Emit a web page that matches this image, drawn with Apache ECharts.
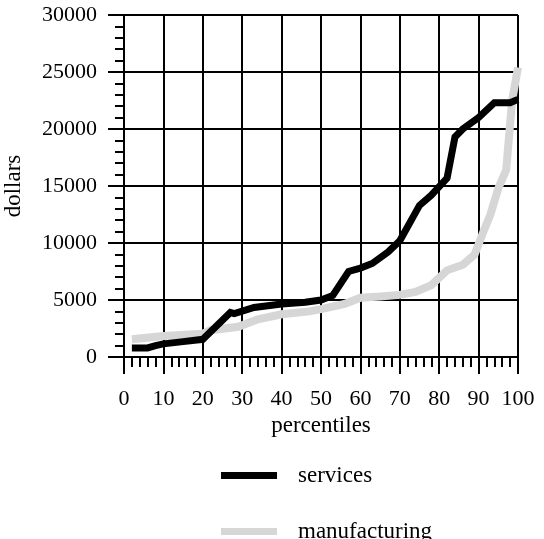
<!DOCTYPE html>
<html>
<head>
<meta charset="utf-8">
<script src="https://cdn.jsdelivr.net/npm/echarts@6/dist/echarts.min.js"></script>
<style>
html,body{margin:0;padding:0;background:#fff;}
#chart{width:544px;height:539px;}
</style>
</head>
<body>
<div id="chart"></div>
<script>
var servicesPct = [2, 6, 8, 10, 15, 20, 27, 28, 33, 40, 46, 50, 53, 57, 60, 63, 67, 70, 75, 78, 82, 84, 86, 90, 94, 98, 100];
var servicesVal = [800, 800, 1000, 1150, 1350, 1550, 3900, 3800, 4350, 4650, 4800, 5000, 5400, 7500, 7800, 8200, 9200, 10200, 13300, 14200, 15700, 19300, 20000, 21000, 22300, 22300, 22600];
var manufPct = [2, 10, 20, 22, 29, 34, 40, 47, 50, 56, 60, 65, 70, 74, 78, 82, 86, 89, 91, 93, 95, 97, 98.5, 100];
var manufVal = [1550, 1850, 2050, 2350, 2650, 3300, 3750, 4000, 4200, 4650, 5200, 5300, 5450, 5700, 6300, 7600, 8100, 9000, 10800, 12500, 14800, 16400, 22500, 25400];
var seriesNames = ['services', 'manufacturing'];

function pairs(xs, ys) { return xs.map(function (x, i) { return [x, ys[i]]; }); }

var font = 'Liberation Serif';
var legendText = { fontFamily: font, fontSize: 23, color: '#000', lineHeight: 23, padding: [0, 0, 0, 16] };
function legendFor(name, top) {
  return {
    data: [name], orient: 'vertical', left: 221, top: top, padding: 0,
    itemWidth: 56, itemHeight: 7, icon: 'rect', textStyle: legendText
  };
}
var chart = echarts.init(document.getElementById('chart'));
chart.setOption({
  animation: false,
  backgroundColor: '#fff',
  textStyle: { fontFamily: font, color: '#000' },
  grid: { left: 124, right: 26, top: 15, bottom: 182, containLabel: false, outerBoundsMode: 'none' },
  xAxis: {
    type: 'value', min: 0, max: 100, interval: 10,
    name: 'percentiles', nameLocation: 'middle', nameGap: 57,
    nameTextStyle: { fontFamily: font, fontSize: 23, color: '#000' },
    axisLine: { show: true, onZero: false, lineStyle: { color: '#000', width: 2 } },
    axisTick: { show: true, inside: false, length: 17, lineStyle: { color: '#000', width: 2 } },
    minorTick: { show: true, splitNumber: 5, length: 10, lineStyle: { color: '#000', width: 2 } },
    axisLabel: { margin: 31, fontFamily: font, fontSize: 22, color: '#000' },
    splitLine: { show: true, lineStyle: { color: '#000', width: 2 } }
  },
  yAxis: {
    type: 'value', min: 0, max: 30000, interval: 5000,
    name: 'dollars', nameLocation: 'middle', nameGap: 99, nameRotate: 90,
    nameTextStyle: { fontFamily: font, fontSize: 23, color: '#000' },
    axisLine: { show: true, lineStyle: { color: '#000', width: 2 } },
    axisTick: { show: true, inside: false, length: 16, lineStyle: { color: '#000', width: 2 } },
    minorTick: { show: true, splitNumber: 5, length: 9, lineStyle: { color: '#000', width: 2 } },
    axisLabel: { margin: 27, fontFamily: font, fontSize: 22, color: '#000', formatter: function (v) { return String(v); } },
    splitLine: { show: true, lineStyle: { color: '#000', width: 2 } }
  },
  legend: [legendFor(seriesNames[0], 464), legendFor(seriesNames[1], 520)],
  series: [
    {
      name: seriesNames[1], type: 'line', data: pairs(manufPct, manufVal),
      showSymbol: false, symbol: 'none', z: 2,
      itemStyle: { color: '#d6d6d6' },
      lineStyle: { color: '#d6d6d6', width: 8, cap: 'butt', join: 'miter' }
    },
    {
      name: seriesNames[0], type: 'line', data: pairs(servicesPct, servicesVal),
      showSymbol: false, symbol: 'none', z: 3,
      itemStyle: { color: '#000' },
      lineStyle: { color: '#000', width: 7, cap: 'butt', join: 'miter', miterLimit: 10 }
    }
  ]
});
</script>
</body>
</html>
